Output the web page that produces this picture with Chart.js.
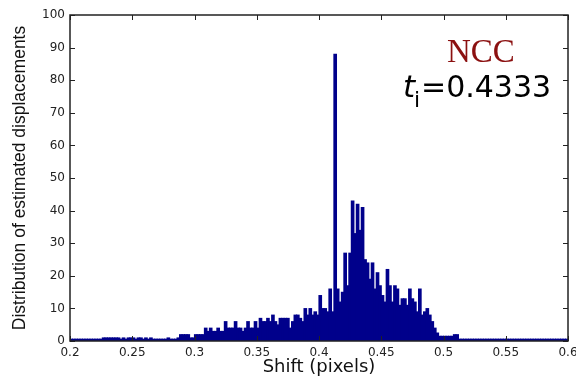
<!DOCTYPE html>
<html>
<head>
<meta charset="utf-8">
<script src="https://cdn.jsdelivr.net/npm/chart.js@4.4.1/dist/chart.umd.min.js"></script>
<style>
  html, body { margin: 0; padding: 0; background: #fff; }
  #wrap { width: 576px; height: 378px; }
</style>
</head>
<body>
<div id="wrap"><canvas id="hist"></canvas></div>
<script>
// ── Data ──────────────────────────────────────────────────────────────────
const binStart = 0.2;
const binWidth = 0.002;
const counts = [
  0, 0, 0, 0, 0, 0, 0, 0, 0, 0,  0, 0, 0,
  1, 1, 1, 1, 1, 1, 1, 0, 1, 0, 1, 1, 1, 0, 1, 1, 0, 1, 0, 1,
  0, 0, 0, 0, 0, 0, 1, 0, 0, 0,
  1, 2, 2, 2, 2, 1, 1, 2, 2, 2, 2, 4, 3,
  4, 3, 3, 4, 3, 3, 6, 4, 4, 4, 6, 4, 4, 3,
  4, 6, 4, 4, 6, 4, 7, 6, 6, 7, 6, 8, 6, 5, 7, 7, 7, 7,
  4, 6, 8, 8, 7, 6, 10, 8, 10, 8, 9, 8, 14, 10, 10, 9, 16, 9,
  88, 16, 12, 15, 27, 17, 27, 43, 33, 42, 34, 41, 25, 24, 19, 24, 16, 21, 17, 14, 12, 22,
  17, 12, 17, 16, 11, 13, 13, 11, 16, 13, 12, 9, 16, 8, 9, 10, 8, 6, 4, 2.5,
  1.5, 1.5, 1.5, 1.5, 1.5, 1.5, 2, 2,
  0, 0, 0, 0, 0, 0, 0, 0, 0, 0, 0, 0, 0, 0, 0, 0, 0, 0, 0, 0, 0, 0,
  0, 0, 0, 0, 0, 0, 0, 0, 0, 0, 0, 0, 0, 0, 0, 0, 0, 0, 0, 0, 0, 0
];
const xTicks = [0.2, 0.25, 0.3, 0.35, 0.4, 0.45, 0.5, 0.55, 0.6];
const yTicks = [0, 10, 20, 30, 40, 50, 60, 70, 80, 90, 100];
const xLabel = 'Shift (pixels)';
const yLabel = 'Distribution of estimated displacements';
const method = 'NCC';
const threshold = '=0.4333';

const points = counts.map((c, i) => ({ x: binStart + binWidth * (i + 0.5), y: c }));

// ── Frame, inward ticks and annotation ───────────────────────────────────
const frame = {
  id: 'frame',
  afterDraw(chart) {
    const { ctx, chartArea: a, scales: { x, y } } = chart;
    ctx.save();
    ctx.strokeStyle = '#222';
    ctx.lineWidth = 1;
    ctx.beginPath();
    xTicks.forEach(v => {
      const px = Math.round(x.getPixelForValue(v)) + 0.5;
      ctx.moveTo(px, a.bottom); ctx.lineTo(px, a.bottom - 5);
      ctx.moveTo(px, a.top); ctx.lineTo(px, a.top + 5);
    });
    yTicks.forEach(v => {
      const py = Math.round(y.getPixelForValue(v)) + 0.5;
      ctx.moveTo(a.left, py); ctx.lineTo(a.left + 5, py);
      ctx.moveTo(a.right, py); ctx.lineTo(a.right - 5, py);
    });
    ctx.stroke();
    ctx.lineWidth = 1.5;
    ctx.strokeRect(a.left, a.top, a.right - a.left, a.bottom - a.top);

    ctx.textBaseline = 'alphabetic';
    ctx.textAlign = 'left';
    ctx.fillStyle = '#8b1010';
    ctx.font = '33px "Liberation Serif", serif';
    ctx.fillText(method, 447, 62);

    ctx.fillStyle = '#000';
    ctx.font = 'italic 31px "DejaVu Sans", sans-serif';
    ctx.fillText('t', 403, 97);
    ctx.font = '22px "DejaVu Sans", sans-serif';
    ctx.fillText('i', 414, 107);
    ctx.font = '30px "DejaVu Sans", sans-serif';
    ctx.fillText(threshold, 421, 97);
    ctx.restore();
  }
};

new Chart(document.getElementById('hist'), {
  type: 'bar',
  data: {
    datasets: [{
      data: points,
      backgroundColor: '#00008b',
      borderWidth: 0,
      barThickness: 3,
      minBarLength: 2
    }]
  },
  options: {
    responsive: true,
    maintainAspectRatio: false,
    animation: false,
    layout: { padding: { left: 0, top: 15, right: 8, bottom: 0 } },
    plugins: { legend: { display: false }, tooltip: { enabled: false } },
    scales: {
      x: {
        type: 'linear',
        min: 0.2,
        max: 0.6,
        offset: false,
        grid: { display: false, drawTicks: false },
        border: { display: false },
        afterBuildTicks: s => { s.ticks = xTicks.map(v => ({ value: v })); },
        ticks: {
          padding: 5,
          maxRotation: 0,
          autoSkip: false,
          color: '#222',
          font: { family: 'DejaVu Sans', size: 12 },
          callback: v => String(+v.toFixed(2))
        },
        title: {
          display: true,
          text: xLabel,
          color: '#111',
          font: { family: 'DejaVu Sans', size: 18 },
          padding: { top: 0, bottom: 0 }
        },
        afterFit: s => { s.height = 37; s.paddingLeft = 0; s.paddingRight = 0; }
      },
      y: {
        min: 0,
        max: 100,
        grid: { display: false, drawTicks: false },
        border: { display: false },
        afterBuildTicks: s => { s.ticks = yTicks.map(v => ({ value: v })); },
        ticks: {
          padding: 5,
          color: '#222',
          font: { family: 'DejaVu Sans', size: 12 }
        },
        title: {
          display: true,
          text: yLabel,
          color: '#111',
          font: { family: 'Liberation Sans', size: 17.5 },
          padding: { top: 10, bottom: 0 }
        },
        afterFit: s => { s.width = 70; s.paddingTop = 0; s.paddingBottom = 0; }
      }
    }
  },
  plugins: [frame]
});
</script>
</body>
</html>
